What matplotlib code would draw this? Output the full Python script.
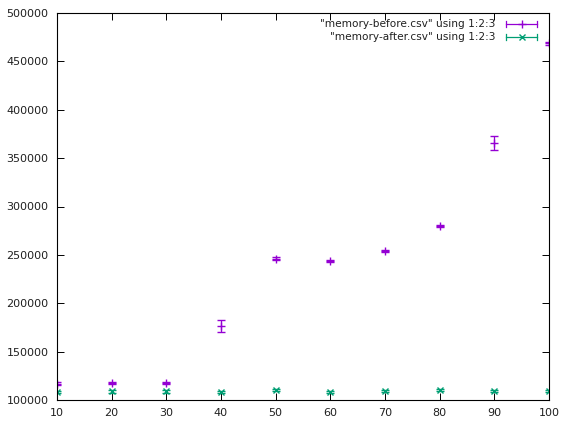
import numpy as np
import matplotlib.pyplot as plt

# data
x_vals = [10, 20, 30, 40, 50, 60, 70, 80, 90, 100]
before_mean = [117000, 117800, 117600, 176500, 245800, 243600, 254000, 280000, 365800, 468800]
before_err = [1200, 1200, 1500, 6000, 1500, 1200, 1500, 1200, 7500, 1500]
after_mean = [108300, 108800, 108800, 108300, 110300, 108500, 109300, 110300, 109300, 109500]
after_err = [1200, 1200, 1200, 1200, 1200, 1200, 1200, 1200, 1200, 1200]

purple = '#9400d3'
green = '#009e73'

fig = plt.figure(figsize=(5.63, 4.21), dpi=100)
ax = fig.add_axes([57 / 563, 21 / 421, 492 / 563, 387 / 421])

ax.errorbar(x_vals, before_mean, yerr=before_err, fmt='+', color=purple,
            ms=6, mew=1, elinewidth=0.9, capsize=3, capthick=0.9)
ax.errorbar(x_vals, after_mean, yerr=after_err, fmt='x', color=green,
            ms=4.5, mew=1, elinewidth=0.9, capsize=3, capthick=0.9)

ax.set_xlim(10, 100)
ax.set_ylim(100000, 500000)
ax.set_xticks(np.arange(10, 101, 10))
ax.set_yticks(np.arange(100000, 500001, 50000))
ax.tick_params(direction='in', length=5, width=0.7, top=True, right=True,
               labelsize=8, pad=6, colors='black', labelcolor='#202020')
for s in ax.spines.values():
    s.set_linewidth(0.8)

# gnuplot style key, right aligned, sample line after the text
keys = [('"memory-before.csv" using 1:2:3', purple, '+', 6),
        ('"memory-after.csv" using 1:2:3', green, 'x', 4.5)]
x_text = (495 - 57) / 492
x0, x1 = (506 - 57) / 492, (537 - 57) / 492
for i, (label, col, mk, ms) in enumerate(keys):
    yk = 1 - (24 + 13 * i - 13) / 387
    ax.text(x_text, yk, label, transform=ax.transAxes, ha='right', va='center',
            fontsize=7.6, color='#202020')
    ax.plot([x0, x1], [yk, yk], color=col, lw=0.9, transform=ax.transAxes, clip_on=False)
    for xe in (x0, x1):
        ax.plot([xe, xe], [yk - 0.009, yk + 0.009], color=col, lw=0.9,
                transform=ax.transAxes, clip_on=False)
    ax.plot([(x0 + x1) / 2], [yk], marker=mk, ms=ms, mew=1, color=col,
            transform=ax.transAxes, clip_on=False)

fig.savefig('out.png', dpi=100)
